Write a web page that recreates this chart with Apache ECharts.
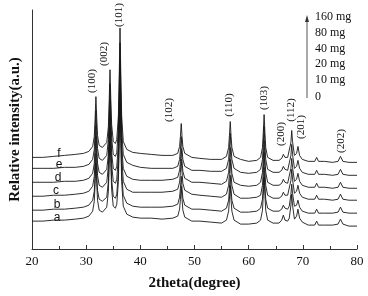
<!DOCTYPE html>
<html><head><meta charset="utf-8">
<script src="https://cdn.jsdelivr.net/npm/echarts@6/dist/echarts.min.js"></script>
<style>html,body{margin:0;padding:0;background:#fff}#c{width:368px;height:296px}</style>
</head><body><div id="c"></div>
<script>
var twoTheta = [20,22,24,26,28,29.5,30.5,31.2,31.5,31.65,31.8,31.95,32.1,32.4,33.0,33.8,34.1,34.25,34.4,34.55,34.7,35.0,35.4,35.65,35.95,36.1,36.25,36.4,36.55,36.85,37.5,38.6,40,42,44,46,46.9,47.25,47.4,47.55,47.7,47.85,48.2,49.5,51,53,55,55.9,56.3,56.45,56.6,56.75,56.9,57.3,58.5,60,61.5,62.2,62.55,62.7,62.85,63.0,63.15,63.5,64.5,65.6,66.1,66.4,66.7,67.2,67.5,67.8,67.95,68.1,68.45,68.85,69.1,69.4,69.9,71,72.2,72.55,72.9,74,75.5,76.5,76.95,77.4,78.5,80];

var curveA = [28,28,29,29,30,31,33,38,48,65,86,66,49,39,37,42,58,85,117,86,60,43,41,45,68,106,151,106,68,43,35,32,31,31,30,31,33,40,50,63,50,39,32,28,28,27,26,29,38,50,64,49,38,29,25,25,26,29,39,54,72,54,39,29,26,26,29,34,29,28,31,44,55,44,30,33,40,31,27,24,24,28,24,24,24,25,30,25,23,23];
var curveB = [39,39,40,40,41,42,44,49,58,75,96,76,59,50,48,52,68,92,122,93,70,53,51,55,78,115,162,115,78,54,46,43,42,42,42,43,45,52,61,73,61,51,44,40,40,39,38,41,49,61,74,60,49,41,37,37,38,41,50,64,82,64,50,41,38,38,40,44,41,40,43,55,65,56,43,44,49,42,38,36,36,40,36,36,36,37,42,37,36,36];
var curveC = [53,53,54,54,55,56,58,63,73,91,113,92,74,64,62,67,83,109,140,110,85,68,66,70,94,133,180,133,94,68,60,57,57,57,57,58,60,67,77,90,77,66,59,55,54,53,52,55,64,76,90,75,64,55,51,51,52,54,64,79,97,79,64,54,51,51,53,57,54,54,56,69,80,70,56,58,64,56,52,50,50,54,50,50,49,50,55,50,49,49];
var curveD = [67,67,67,68,68,69,71,76,86,103,124,104,86,77,75,80,95,120,150,121,97,81,79,83,106,144,190,144,106,81,73,70,69,69,69,70,72,79,88,101,88,78,71,67,67,66,65,68,77,88,102,87,76,67,64,63,64,67,77,91,109,91,77,67,64,64,66,70,67,66,68,81,91,82,68,70,76,68,64,62,62,66,62,62,61,62,67,62,61,61];
var curveE = [81,81,81,82,82,83,85,90,100,118,139,119,101,91,89,94,110,136,166,137,112,95,93,97,121,160,207,160,121,95,87,84,82,81,81,81,83,90,100,113,100,90,83,79,79,78,78,81,90,102,116,101,90,81,77,76,77,80,90,105,123,105,90,80,77,77,79,83,80,79,81,94,105,95,81,83,89,81,77,75,75,79,75,75,74,75,80,75,74,74];
var curveF = [92,92,93,94,95,96,98,103,113,131,153,132,114,104,102,107,123,149,180,150,125,108,106,110,134,173,222,173,134,108,100,97,96,95,94,94,96,103,113,126,113,103,96,92,91,90,90,93,102,114,128,113,102,93,90,88,89,92,102,117,135,117,102,92,89,89,91,95,92,92,94,107,119,108,94,96,103,94,90,88,88,92,88,88,87,88,93,88,87,87];

var sampleNames = ['a','b','c','d','e','f'];
var legendItems = ['160 mg','80 mg','40 mg','20 mg','10 mg','0'];
var peakLabels = ['(100)','(002)','(101)','(102)','(110)','(103)','(200)','(112)','(201)','(202)'];
var xTicks = [20,30,40,50,60,70,80];

var curves = [curveA, curveB, curveC, curveD, curveE, curveF];

var chart = echarts.init(document.getElementById('c'), null, {renderer:'canvas'});
var serif = '"Liberation Serif","Times New Roman",serif';

var series = curves.map(function(c, i){
  return {
    type:'line', name: sampleNames[i], showSymbol:false, symbol:'none',
    lineStyle:{color:'#161616', width:0.9},
    data: twoTheta.map(function(x, j){ return [x, c[j]]; }),
    animation:false
  };
});

// pixel positions for annotation texts
var peakLabelPos = [[92,81],[104,54],[119,15],[169,110],[229,105],[264,98],[281,134],[291,110],[301,127],[341,141]];
var sampleLabelPos = [[57,218],[57,205],[56,191],[58,178],[59,165],[59,154]];
var legendY = [17,33,49,64,80,97];

var graphics = [];
peakLabels.forEach(function(t, i){
  graphics.push({type:'text', x:peakLabelPos[i][0], y:peakLabelPos[i][1], rotation:Math.PI/2,
    style:{text:t, font:'11px '+serif, fill:'#111', align:'center', verticalAlign:'middle'}});
});
sampleNames.forEach(function(t, i){
  graphics.push({type:'text', x:sampleLabelPos[i][0], y:sampleLabelPos[i][1],
    style:{text:t, font:'12px "Liberation Sans",Arial,sans-serif', fill:'#111', align:'center', verticalAlign:'middle'}});
});
legendItems.forEach(function(t, i){
  graphics.push({type:'text', x:315, y:legendY[i],
    style:{text:t, font:'12px '+serif, fill:'#111', align:'left', verticalAlign:'middle'}});
});
graphics.push({type:'line', shape:{x1:307, y1:98, x2:307, y2:20}, style:{stroke:'#555', lineWidth:1}});
graphics.push({type:'polygon', shape:{points:[[305,22],[309,22],[307,15]]}, style:{fill:'#333'}});

chart.setOption({
  backgroundColor:'#fff',
  animation:false,
  grid:{left:28, right:11, top:10, bottom:46, containLabel:false},
  xAxis:{
    type:'value', min:20, max:80, interval:10,
    name:'2theta(degree)', nameLocation:'middle', nameGap:27,
    nameTextStyle:{fontFamily:serif, fontWeight:'bold', fontSize:15, color:'#111'},
    axisLine:{show:true, onZero:false, lineStyle:{color:'#333', width:1}},
    axisTick:{show:true, inside:true, length:4, lineStyle:{color:'#333'}},
    minorTick:{show:true, splitNumber:2, length:3, lineStyle:{color:'#333'}},
    axisLabel:{fontFamily:serif, fontSize:13, color:'#111', margin:6,
      formatter:function(v){ return xTicks.indexOf(v) >= 0 ? String(v) : ''; }},
    splitLine:{show:false}
  },
  yAxis:{
    type:'value', min:0, max:240,
    name:'Relative intensity(a.u.)', nameLocation:'middle', nameGap:9,
    nameTextStyle:{fontFamily:serif, fontWeight:'bold', fontSize:15, color:'#111'},
    axisLine:{show:true, lineStyle:{color:'#333', width:1}},
    axisTick:{show:false}, axisLabel:{show:false}, splitLine:{show:false}
  },
  series: series,
  graphic: graphics
});
</script></body></html>
